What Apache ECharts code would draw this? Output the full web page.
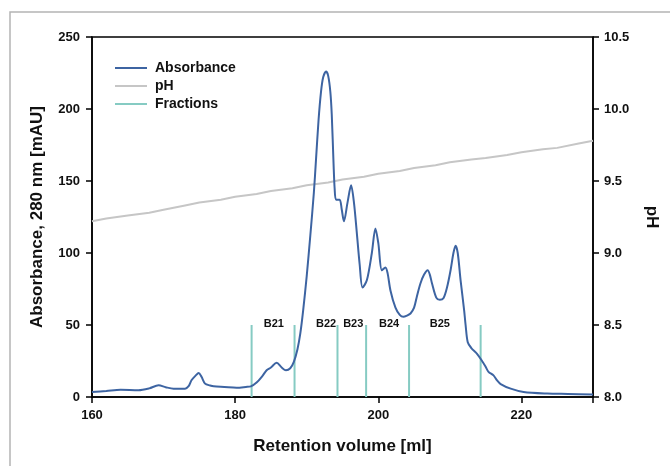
<!DOCTYPE html>
<html>
<head>
<meta charset="utf-8">
<script src="https://cdn.jsdelivr.net/npm/echarts@6/dist/echarts.min.js"></script>
<style>html,body{margin:0;padding:0;background:#fff}#c{width:670px;height:466px}</style>
</head>
<body>
<div id="c"></div>
<script>
// Absorbance trace (retention volume ml, mAU)
const absVolume = [160,162,164,166.5,168,169.3,170.3,171.4,173,173.5,173.9,174.5,174.9,175.3,175.8,176.5,177,178.5,180.2,181.5,182.2,183,183.8,184.4,185,185.8,186.5,187.1,187.7,188.2,188.7,189.1,189.5,190,190.5,191,191.3,191.65,192,192.3,192.7,193,193.3,193.5,193.75,193.9,194.1,194.6,194.9,195.2,195.7,196.2,196.6,197,197.4,197.8,198.4,199.1,199.6,200,200.5,201,201.3,201.7,202.4,203,203.5,204,204.5,205,205.4,205.9,206.4,206.9,207.2,207.5,208.1,208.6,209.1,209.6,210.1,210.5,210.8,211.1,211.5,212,212.2,212.5,213,213.8,214.5,215,215.4,216.1,216.6,217.1,218.5,220.3,223.6,226.5,230];
const absValues = [3.5,4.2,5,4.7,6,8.1,6.8,5.8,5.8,7.5,11.6,15,16.7,14,9.3,8,7.4,7,6.5,7,7.4,10,14.5,18.6,20.5,23.7,20.5,18.6,20,24.4,33,44,60,84,112,142,165,192,212,222,226,223,212,196,162,145,137,137,130,122,135,147,135,114,92,76,81,100,117,107,88,90,86,74,62,57,55.7,56.5,58,62,70,79,85,88,85,79,69,67.5,68.5,76,88,100,105,100,81,60,50,38,34,30,25,21,17.5,15,11.5,9,5.8,3.5,2.4,2.1,1.7];
// pH trace
const phVolume = [160,162,165,168,170,173,175,178,180,183,185,188,190,193,195,198,200,203,205,208,210,213,215,218,220,223,225,228,230];
const phValues = [9.22,9.24,9.26,9.28,9.30,9.33,9.35,9.37,9.39,9.41,9.43,9.45,9.47,9.49,9.51,9.53,9.55,9.57,9.59,9.61,9.63,9.65,9.66,9.68,9.70,9.72,9.73,9.76,9.78];
// Fractions
const fractionEdges = [182.3,188.3,194.3,198.3,204.3,214.3];
const fractionHeight = 50;
const fractionNames = ['B21','B22','B23','B24','B25'];
const fractionLabelPos = [185.4,192.7,196.5,201.5,208.6];
const xTicks = [160,180,200,220];

const FONT = 'Liberation Sans, Arial, sans-serif';
const absData = absVolume.map((v,i)=>[v,absValues[i]]);
const phData = phVolume.map((v,i)=>[v,phValues[i]]);
const fracData = fractionEdges.map(v=>[v,fractionHeight]);
const labelData = fractionLabelPos.map((v,i)=>({value:[v,fractionHeight+0.5], name:fractionNames[i]}));

const chart = echarts.init(document.getElementById('c'), null, {renderer:'canvas'});
chart.setOption({
  animation:false,
  backgroundColor:'#fff',
  graphic:[{type:'rect', shape:{x:10,y:12,width:720,height:520}, style:{fill:'none', stroke:'#b4b4b4', lineWidth:1.5}, silent:true, z:-10}],
  grid:{left:92, right:77, top:37, bottom:69, show:true, borderColor:'#000', borderWidth:1.5, backgroundColor:'transparent'},
  legend:{
    left:110, top:54, orient:'vertical', itemWidth:32, itemHeight:2, itemGap:0, icon:'rect',
    textStyle:{fontFamily:FONT, fontWeight:'bold', fontSize:14, color:'#111', lineHeight:18, padding:[0,0,0,3]},
    data:[{name:'Absorbance'},{name:'pH'},{name:'Fractions'}]
  },
  xAxis:{
    type:'value', min:160, max:230, interval:20,
    name:'Retention volume [ml]', nameLocation:'middle', nameGap:41,
    nameTextStyle:{fontFamily:FONT, fontWeight:'bold', fontSize:17, color:'#111'},
    axisLine:{lineStyle:{color:'#000', width:1.5}},
    axisTick:{show:true, length:6, lineStyle:{color:'#000', width:1.5}},
    axisLabel:{margin:12, fontFamily:FONT, fontWeight:'bold', fontSize:13, color:'#111',
      formatter:v=> xTicks.indexOf(v)>=0 ? String(v) : ''},
    splitLine:{show:false}
  },
  yAxis:[{
    type:'value', min:0, max:250, interval:50, position:'left',
    name:'Absorbance, 280 nm [mAU]', nameLocation:'middle', nameGap:46,
    nameTextStyle:{fontFamily:FONT, fontWeight:'bold', fontSize:17, color:'#111'},
    axisLine:{show:true, lineStyle:{color:'#000', width:1.5}},
    axisTick:{show:true, length:6, lineStyle:{color:'#000', width:1.5}},
    axisLabel:{margin:12, fontFamily:FONT, fontWeight:'bold', fontSize:13, color:'#111'},
    splitLine:{show:false}
  },{
    type:'value', min:8, max:10.5, interval:0.5, position:'right',
    name:'pH', nameLocation:'middle', nameGap:50, nameRotate:-90,
    nameTextStyle:{fontFamily:FONT, fontWeight:'bold', fontSize:17, color:'#111'},
    axisLine:{show:true, lineStyle:{color:'#000', width:1.5}},
    axisTick:{show:true, length:6, lineStyle:{color:'#000', width:1.5}},
    axisLabel:{margin:11, fontFamily:FONT, fontWeight:'bold', fontSize:13, color:'#111', formatter:v=>v.toFixed(1)},
    splitLine:{show:false}
  }],
  series:[{
    name:'Absorbance', type:'line', data:absData, yAxisIndex:0, smooth:0.3, showSymbol:false, z:5,
    lineStyle:{color:'#3d64a2', width:2}, itemStyle:{color:'#3d64a2'}
  },{
    name:'pH', type:'line', data:phData, yAxisIndex:1, showSymbol:false, z:3,
    lineStyle:{color:'#c6c6c6', width:2}, itemStyle:{color:'#c6c6c6'}
  },{
    name:'Fractions', type:'custom', data:fracData, yAxisIndex:0, z:4,
    itemStyle:{color:'#86cbc3'},
    renderItem:(params, api)=>{
      const top = api.coord([api.value(0), api.value(1)]);
      const bot = api.coord([api.value(0), 0]);
      return {type:'line', shape:{x1:top[0], y1:top[1], x2:bot[0], y2:bot[1]}, style:{stroke:'#86cbc3', lineWidth:2}};
    }
  },{
    name:'FractionLabels', type:'custom', data:labelData, yAxisIndex:0, z:6,
    renderItem:(params, api)=>{
      const p = api.coord([api.value(0), api.value(1)]);
      return {type:'text', x:p[0], y:p[1], style:{text:fractionNames[params.dataIndex], fontFamily:FONT, fontWeight:'bold', fontSize:11, fill:'#111', align:'center', verticalAlign:'middle'}};
    }
  }]
});
</script>
</body>
</html>
